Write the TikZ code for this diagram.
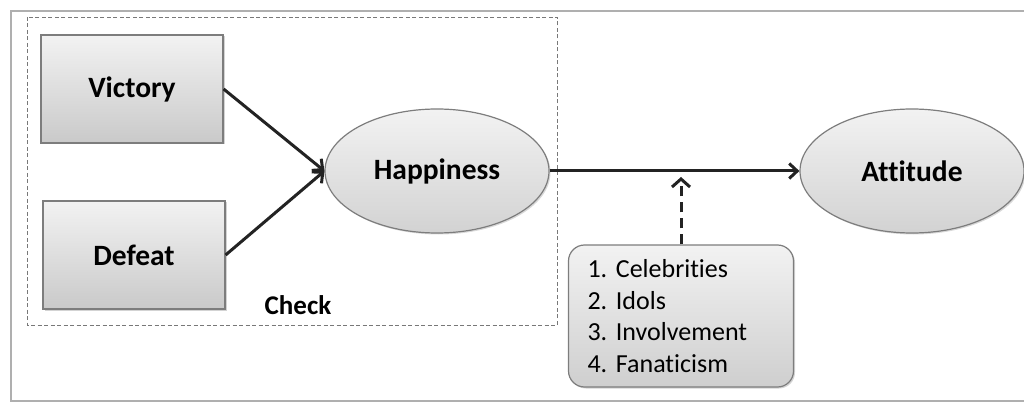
\documentclass[tikz,border=0pt]{standalone}
\usepackage{fontspec}
\setmainfont[Ligatures={NoCommon}]{Carlito}
\definecolor{framegray}{RGB}{175,175,175}
\definecolor{edgegray}{RGB}{125,125,125}
\definecolor{dashgray}{RGB}{120,120,120}
\definecolor{arrowgray}{RGB}{35,35,35}
\usetikzlibrary{arrows.meta,positioning,shapes.geometric,shadows}
\frenchspacing

\begin{document}
\begin{tikzpicture}[x=1pt, y=-1pt,
  cause/.style={rectangle, draw=edgegray, line width=1.2pt, top color=gray!10, bottom color=gray!42,
    drop shadow={opacity=0.35, shadow xshift=1.5pt, shadow yshift=-1.5pt},
    minimum width=182pt, minimum height=108pt, font=\fontsize{29.5}{34}\selectfont\bfseries},
  state/.style={ellipse, draw=edgegray, line width=1.2pt, top color=gray!10, bottom color=gray!35,
    drop shadow={opacity=0.3, shadow xshift=1.5pt, shadow yshift=-1.5pt},
    minimum width=224pt, minimum height=124pt, inner sep=0pt, font=\fontsize{29.5}{34}\selectfont\bfseries},
  factor/.style={rectangle, rounded corners=16pt, draw=edgegray, line width=1.2pt, top color=gray!10, bottom color=gray!38,
    drop shadow={opacity=0.35, shadow xshift=1.5pt, shadow yshift=-1.5pt},
    minimum width=225pt, minimum height=142pt, text width=187pt, align=left,
    font=\fontsize{26}{31.5}\selectfont},
  flow/.style={draw=arrowgray, line width=3pt, -{Straight Barb[length=8pt, width=15pt, line width=3pt]}},
  influence/.style={draw=arrowgray, line width=3pt, dash pattern=on 10pt off 6pt,
    -{Straight Barb[length=8pt, width=18pt, line width=3pt]}}
]
  \useasboundingbox (0,0) rectangle (1024,403);

  %% outer frame and check region
  \draw[framegray, line width=1.6pt] (1030,11) -- (11,11) -- (11,401) -- (1030,401);
  \draw[dashgray, line width=0.8pt, dash pattern=on 4pt off 2.5pt] (27,17) rectangle (557,325);

  %% Inputs
  \node[cause] (victory) at (132,89) {Victory};
  \node[cause] (defeat)  at (134,255) {Defeat};
  \node[font=\fontsize{27}{31}\selectfont\bfseries] (check) at (298,305) {Check};

  %% States
  \node[state] (happy)    at (437,171) {Happiness};
  \node[state] (attitude) at (912,171) {Attitude};

  %% Moderators
  \node[factor] (mods) at (681,316) {1. Celebrities\\2. Idols\\3. Involvement\\4. Fanaticism};
  \coordinate (hit) at (681,177);

  \draw[flow] (victory.east) -- (happy.west);
  \draw[flow] (defeat.east) -- (happy.west);
  \draw[flow] (happy.east) -- (attitude.west);
  \draw[influence] (mods.north) -- (hit);
\end{tikzpicture}
\end{document}
